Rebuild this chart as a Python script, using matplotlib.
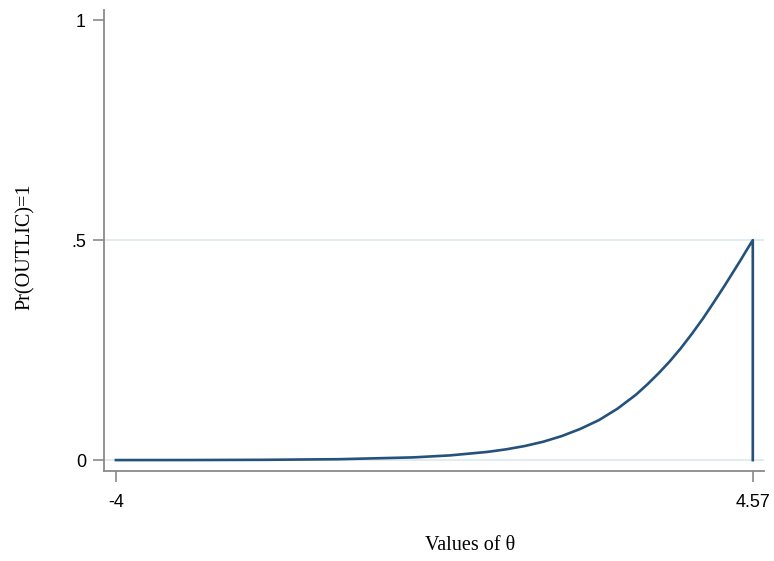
import numpy as np
import matplotlib.pyplot as plt

# values
theta = [-4.0, -3.0, -2.0, -1.0, 0.0, 0.5, 1.0, 1.25, 1.5, 1.75, 2.0, 2.25,
         2.5, 2.75, 3.0, 3.15, 3.3, 3.45, 3.6, 3.75, 3.9, 4.05, 4.2, 4.3,
         4.4, 4.5, 4.57, 4.57]
prob = [0.0001, 0.0002, 0.0007, 0.0021, 0.0062, 0.0108, 0.0187, 0.0245,
        0.032, 0.0418, 0.0547, 0.071, 0.091, 0.117, 0.149, 0.172, 0.197,
        0.224, 0.254, 0.287, 0.322, 0.360, 0.399, 0.426, 0.453, 0.481,
        0.5, 0.0]

ytick_vals = [0, 0.5, 1]
ytick_labels = ["0", ".5", "1"]
xtick_vals = [-4, 4.57]
xtick_labels = ["-4", "4.57"]
grid_vals = [0, 0.5]

line_color = "#24527c"
grid_color = "#dde8ee"
axis_color = "#8a8a8a"

fig = plt.figure(figsize=(7.74, 5.61), dpi=100)
ax = fig.add_axes([0.1344, 0.161, 0.8526, 0.821])

for g in grid_vals:
    ax.axhline(g, color=grid_color, lw=1.2, zorder=1)

ax.plot(theta, prob, color=line_color, lw=1.9, zorder=3)

ax.set_xlim(-4.16, 4.72)
ax.set_ylim(-0.024, 1.023)

ax.set_yticks(ytick_vals)
ax.set_yticklabels(ytick_labels, fontfamily="Liberation Sans", fontsize=13)
ax.set_xticks(xtick_vals)
ax.set_xticklabels(xtick_labels, fontfamily="Liberation Sans", fontsize=13)

ax.tick_params(axis="both", colors=axis_color, length=8, width=1.2,
               labelcolor="black")
ax.tick_params(axis="x", pad=9)
ax.tick_params(axis="y", pad=5)

for side in ["top", "right"]:
    ax.spines[side].set_visible(False)
for side in ["left", "bottom"]:
    ax.spines[side].set_color(axis_color)
    ax.spines[side].set_linewidth(1.3)

fig.text(0.607, 1 - 545 / 561, "Values of \u03b8", ha="center", va="center",
         fontfamily="Liberation Serif", fontsize=14.5)
fig.text(25 / 774, 1 - 247 / 561, "Pr(OUTLIC)=1", ha="center", va="center",
         rotation=90, fontfamily="Liberation Serif", fontsize=14.5)

fig.savefig("out.png", dpi=100)
